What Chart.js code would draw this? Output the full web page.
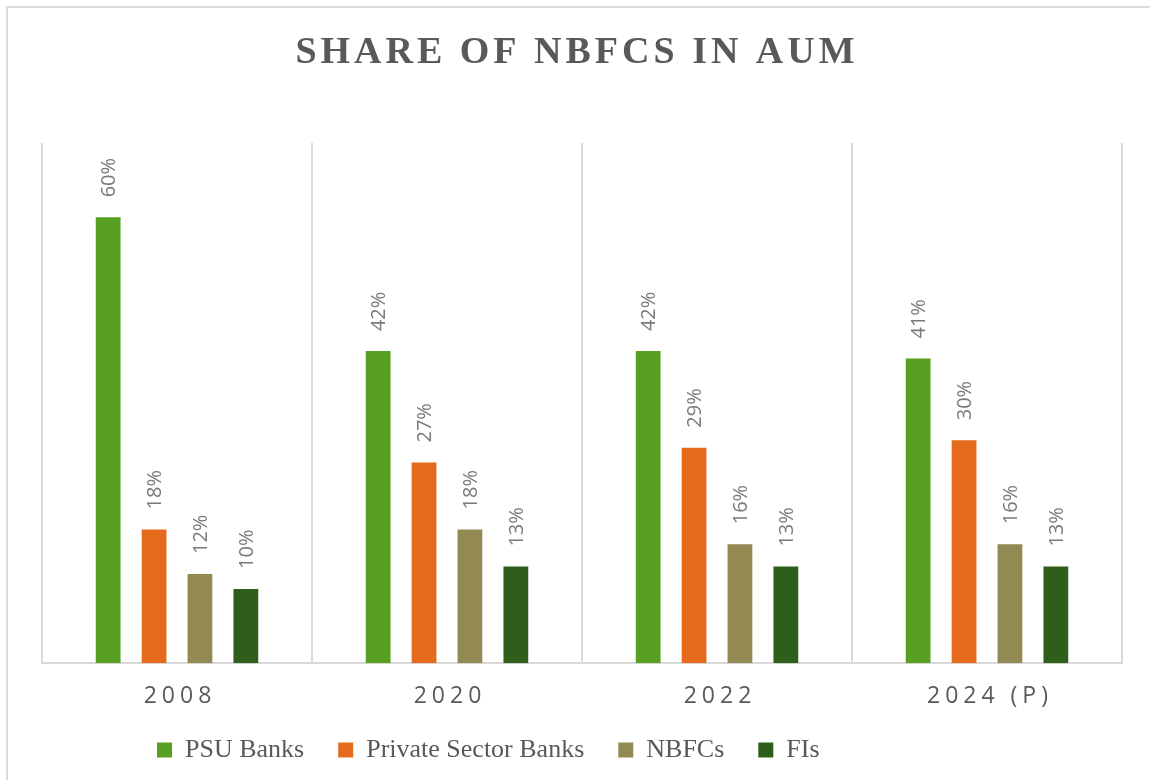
<!DOCTYPE html>
<html>
<head>
<meta charset="utf-8">
<script src="https://cdn.jsdelivr.net/npm/chart.js@4.4.1/dist/chart.umd.min.js"></script>
<style>
  html, body { margin: 0; padding: 0; background: #fff; overflow: hidden; }
  #frame {
    position: absolute; left: 6px; top: 6px; width: 1170px; height: 800px;
    border-left: 2px solid #dadada; border-top: 2px solid #dadada;
  }
  #wrap { position: absolute; left: 0; top: 0; width: 1150px; height: 780px; }
</style>
</head>
<body>
<div id="frame"></div>
<div id="wrap"><canvas id="aumChart"></canvas></div>
<script>
// Share of NBFCs in AUM data
const years = ['2008', '2020', '2022', '2024 (P)'];
const psuBanks = [60, 42, 42, 41];
const privateBanks = [18, 27, 29, 30];
const nbfcs = [12, 18, 16, 16];
const fis = [10, 13, 13, 13];
const chartTitle = 'SHARE OF NBFCS IN AUM';

const colors = {
    psu: '#58a021',
    priv: '#e56a1b',
    nbfc: '#938953',
    fi: '#2e5e19'
};

// spaced title + spaced year labels (canvas letterSpacing)
const spacedText = {
    id: 'spacedText',
    afterLayout(chart) {
        // Excel legend sits left of centre
        chart.legend.left += 81;
        chart.legend.right += 81;
    },
    afterDraw(chart) {
        const ctx = chart.ctx;
        ctx.save();
        ctx.letterSpacing = '4px';
        ctx.fillStyle = '#595959';
        ctx.font = 'bold 38px "Liberation Serif", serif';
        ctx.textAlign = 'center';
        ctx.textBaseline = 'middle';
        ctx.fillText(chartTitle, chart.width / 2 + 2, 53);

        const xScale = chart.scales.x;
        ctx.letterSpacing = '5px';
        ctx.font = '23px "Open Sans", sans-serif';
        xScale.ticks.forEach((t, i) => {
            ctx.fillText(years[i], xScale.getPixelForTick(i) + 3, chart.chartArea.bottom + 33);
        });
        ctx.restore();
    }
};

// rotated percentage labels above bars
const barLabels = {
    id: 'barLabels',
    afterDatasetsDraw(chart) {
        const ctx = chart.ctx;
        ctx.save();
        ctx.fillStyle = '#7a7a7a';
        ctx.font = '20px "Open Sans", sans-serif';
        ctx.textAlign = 'left';
        ctx.textBaseline = 'middle';
        chart.data.datasets.forEach((ds, di) => {
            const meta = chart.getDatasetMeta(di);
            meta.data.forEach((bar, i) => {
                ctx.save();
                ctx.translate(bar.x + 1, bar.y - 20);
                ctx.rotate(-Math.PI / 2);
                ctx.fillText(ds.data[i] + '%', 0, 0);
                ctx.restore();
            });
        });
        ctx.restore();
    }
};

const ctx = document.getElementById('aumChart').getContext('2d');
new Chart(ctx, {
    type: 'bar',
    data: {
        labels: years,
        datasets: [
            { label: 'PSU Banks', data: psuBanks, backgroundColor: colors.psu },
            { label: 'Private Sector Banks', data: privateBanks, backgroundColor: colors.priv },
            { label: 'NBFCs', data: nbfcs, backgroundColor: colors.nbfc },
            { label: 'FIs', data: fis, backgroundColor: colors.fi }
        ]
    },
    options: {
        responsive: true,
        maintainAspectRatio: false,
        animation: false,
        layout: {
            padding: { top: 143, left: 42, right: 28, bottom: 7 }
        },
        datasets: {
            bar: {
                categoryPercentage: 0.68,
                barPercentage: 0.54
            }
        },
        plugins: {
            title: { display: false },
            tooltip: { enabled: false },
            legend: {
                position: 'bottom',
                align: 'start',
                labels: {
                    boxWidth: 15,
                    boxHeight: 15,
                    padding: 34,
                    color: '#595959',
                    font: { family: '"Liberation Serif", serif', size: 26 }
                }
            }
        },
        scales: {
            x: {
                offset: true,
                grid: {
                    display: true,
                    offset: true,
                    drawTicks: false,
                    color: '#d9d9d9',
                    lineWidth: 2
                },
                border: { display: true, color: '#d9d9d9', width: 2 },
                ticks: {
                    color: 'rgba(0,0,0,0)',
                    padding: 5.5,
                    font: { family: '"Open Sans", sans-serif', size: 24 }
                }
            },
            y: {
                display: false,
                min: 0,
                max: 70
            }
        }
    },
    plugins: [spacedText, barLabels]
});
</script>
</body>
</html>
